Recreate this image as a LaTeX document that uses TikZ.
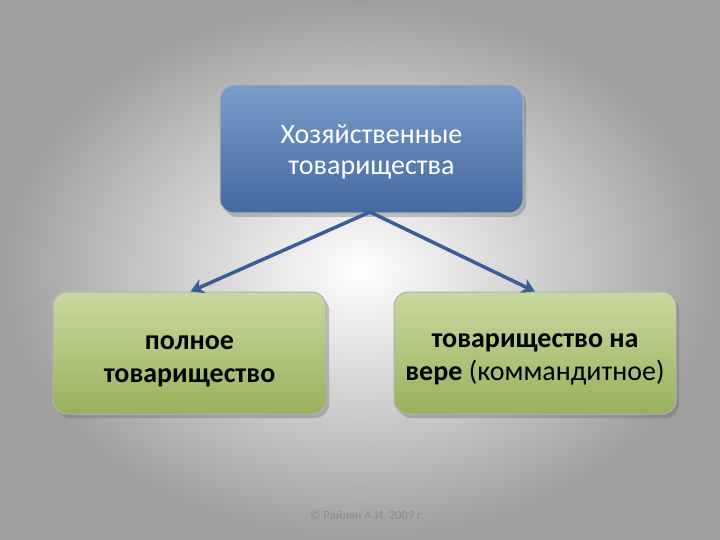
\documentclass[tikz,border=0pt]{standalone}
\usepackage{fontspec}
\setmainfont{Carlito}
\usetikzlibrary{arrows.meta,shadows}
\definecolor{bluetop}{HTML}{7A9CCB}
\definecolor{bluebot}{HTML}{4469A0}
\definecolor{greentop}{HTML}{C9D8A0}
\definecolor{greenbot}{HTML}{97B25B}
\definecolor{arrowblue}{HTML}{3A5E98}
\tikzset{
  box/.style={rounded corners=14pt, draw=gray!60, line width=1pt, align=center,
    drop shadow={shadow xshift=3pt, shadow yshift=-4pt, opacity=0.35, fill=black!60}},
  topbox/.style={box, top color=bluetop, bottom color=bluebot, text=white,
    minimum width=303pt, minimum height=128pt, font=\fontsize{28}{31}\selectfont},
  greenbox/.style={box, top color=greentop, bottom color=greenbot, text=black,
    minimum height=122pt, font=\fontsize{28}{33}\selectfont\bfseries},
  link/.style={draw=arrowblue, line width=3.5pt, -{Stealth[length=13pt,width=15pt,inset=4pt]}}
}
\begin{document}
\begin{tikzpicture}[x=1pt,y=-1pt]
\useasboundingbox (0,0) rectangle (720,540);
\shade[inner color=white, outer color=black!38] (0,0) rectangle (720,540);
\node[topbox] (top) at (371.5,149) {\rule{0pt}{24pt}Хозяйственные\\товарищества};
\node[greenbox, minimum width=273pt] (left) at (189.5,353) {\rule{0pt}{30pt}полное\\товарищество};
\node[greenbox, minimum width=282pt] (right) at (535,353) {\rule{0pt}{27pt}товарищество на\\вере \mdseries(коммандитное)};
\coordinate (split) at (370,212);
\draw[link] (split) -- ([xshift=1pt]left.north);
\draw[link] (split) -- (right.north);
\node[text=black!45, font=\fontsize{12.5}{14}\selectfont] (copy) at (367,515) {© Райлян А.И. 2009 г.};
\end{tikzpicture}
\end{document}
